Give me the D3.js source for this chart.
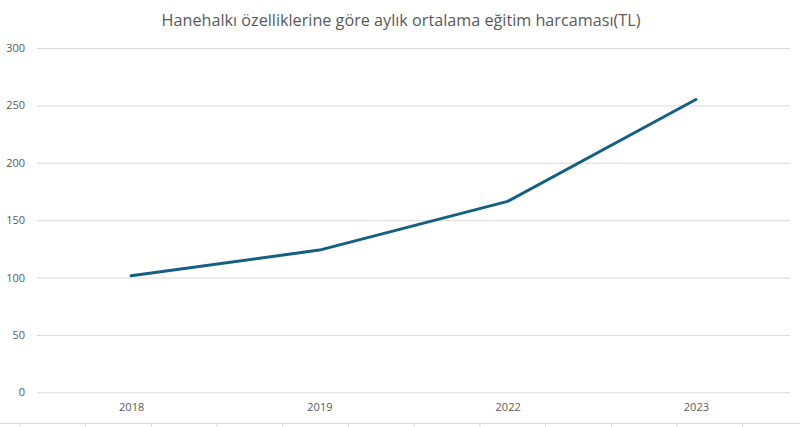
<!DOCTYPE html>
<html><head><meta charset="utf-8">
<script src="https://cdn.jsdelivr.net/npm/d3@7"></script>
<style>body{margin:0;background:#fff;}svg{display:block;}</style>
</head><body>
<svg id="c" width="800" height="427"></svg>
<script>
const title = "Hanehalkı özelliklerine göre aylık ortalama eğitim harcaması(TL)";
const categories = ["2018", "2019", "2022", "2023"];
const values = [101.6, 123.9, 166.4, 255.1];
const yTicks = [0, 50, 100, 150, 200, 250, 300];

const svg = d3.select("#c");
const font = "'Open Sans', sans-serif";
const mLeft = 37, mRight = 790, mTop = 48, mBottom = 392.3;

const x = d3.scalePoint().domain(categories).range([mLeft, mRight]).padding(0.5);
const y = d3.scaleLinear().domain([0, 300]).range([mBottom, mTop]);

svg.append("text").attr("x", 401).attr("y", 26).attr("text-anchor", "middle")
  .attr("font-family", font).attr("font-size", 16.2).attr("fill", "#595959").text(title);

const yAxis = svg.append("g").attr("transform", `translate(${mLeft},0)`)
  .call(d3.axisLeft(y).tickValues(yTicks).tickSize(-(mRight - mLeft)).tickPadding(12));
yAxis.select(".domain").remove();
yAxis.selectAll(".tick line").attr("stroke", "#d9d9d9").attr("stroke-width", 1);
yAxis.selectAll(".tick text").attr("font-family", font).attr("font-size", 11).attr("fill", "#595959");

const xAxis = svg.append("g").attr("transform", `translate(0,${mBottom})`)
  .call(d3.axisBottom(x).tickSize(0).tickPadding(11));
xAxis.select(".domain").remove();
xAxis.selectAll(".tick text").attr("font-family", font).attr("font-size", 11).attr("fill", "#595959");

const line = d3.line().x((d, i) => x(categories[i])).y(d => y(d));
svg.append("path").datum(values).attr("d", line).attr("fill", "none")
  .attr("stroke", "#156082").attr("stroke-width", 3).attr("stroke-linecap", "round").attr("stroke-linejoin", "round");

// bottom frame strip
svg.append("line").attr("x1", 0).attr("x2", 800).attr("y1", 423.5).attr("y2", 423.5).attr("stroke", "#d9d9d9");
const bx = d3.scaleLinear().domain([0, 12]).range([20, 20 + 12 * 65.7]);
svg.selectAll(".bt").data(d3.range(0, 13)).join("line").attr("class", "bt")
  .attr("x1", d => bx(d)).attr("x2", d => bx(d)).attr("y1", 423.5).attr("y2", 427).attr("stroke", "#d9d9d9");
</script>
</body></html>
